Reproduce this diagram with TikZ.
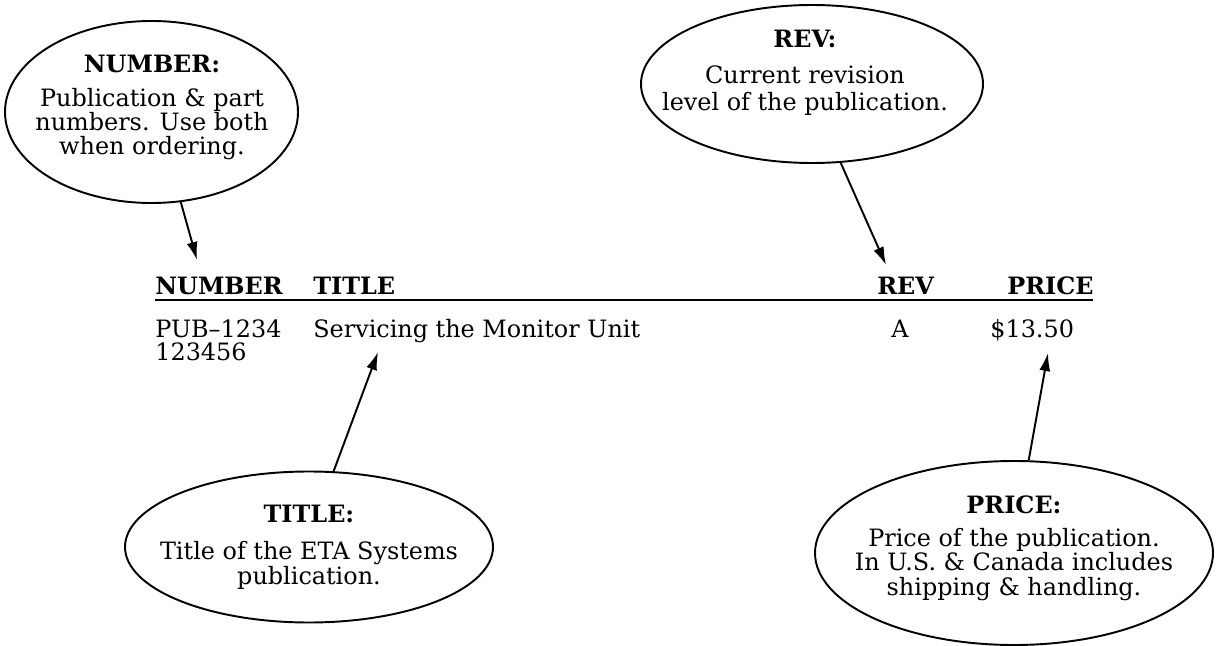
\documentclass[tikz,border=0pt]{standalone}
\usepackage{fontspec}
\setmainfont{DejaVu Serif}
\usetikzlibrary{shapes.geometric,arrows.meta}
\tikzset{
  callout/.style={ellipse, draw, line width=1.1pt, inner sep=0pt},
  note/.style={align=center, inner sep=0pt, anchor=base},
  head/.style={font=\bfseries, anchor=base west, inner sep=0pt},
  entry/.style={anchor=base west, inner sep=0pt},
  pointer/.style={line width=1.1pt, -{Latex[length=3.6mm,width=2.2mm]}}
}
\begin{document}
\fontsize{13.6}{13.7}\selectfont
\begin{tikzpicture}
    \useasboundingbox (0,0) rectangle (24.4,12.9);
    % callouts
    \node [callout, minimum width=5.86cm, minimum height=3.64cm] (numcall) at (3.03,10.66) {};
    \node [callout, minimum width=6.84cm, minimum height=3.16cm] (revcall) at (16.24,11.22) {};
    \node [callout, minimum width=7.36cm, minimum height=3.02cm] (titlecall) at (6.18,1.96) {};
    \node [callout, minimum width=7.96cm, minimum height=3.68cm] (pricecall) at (20.28,1.84) {};
    % callout texts, placed by the baseline of their last line
    \node [note] (numnote) at (3.04,9.8) {\textbf{NUMBER:}\\[5.7pt] Publication \& part\\ numbers. Use both\\ when ordering.};
    \node [note] (revnote) at (16.1,10.68) {\textbf{REV:}\\[6.8pt] Current revision\\[1.7pt] level of the publication.};
    \node [note] (titlenote) at (6.18,1.22) {\textbf{TITLE:}\\[7.4pt] Title of the ETA Systems\\ publication.};
    \node [note] (pricenote) at (20.28,1.0) {\textbf{PRICE:}\\[5pt] Price of the publication.\\ In U.S. \& Canada includes\\ shipping \& handling.};
    % table
    \node [head] (hnum) at (3.1,7.0) {NUMBER};
    \node [head] (htitle) at (6.26,7.0) {TITLE};
    \node [head] (hrev) at (17.54,7.0) {REV};
    \node [head] (hprice) at (20.14,7.0) {PRICE};
    \draw [line width=1.1pt] (3.1,6.9) -- (21.86,6.9);
    \node [entry] (pub) at (3.1,6.14) {PUB--1234};
    \node [entry] (part) at (3.1,5.68) {123456};
    \node [entry] (servicing) at (6.26,6.14) {Servicing the Monitor Unit};
    \node [entry, anchor=base] (revA) at (18.0,6.14) {A};
    \node [entry] (cost) at (19.8,6.14) {\$13.50};
    % pointers
    \coordinate (numtip) at (3.94,7.7);
    \coordinate (revtip) at (17.72,7.6);
    \coordinate (titletip) at (7.56,5.86);
    \coordinate (pricetip) at (20.96,5.84);
    \draw [pointer] (numcall.-72) -- (numtip);
    \draw [pointer] (revcall.-70) -- (revtip);
    \draw [pointer] (titlecall.72) -- (titletip);
    \draw [pointer] (pricecall.81) -- (pricetip);
\end{tikzpicture}
\end{document}
